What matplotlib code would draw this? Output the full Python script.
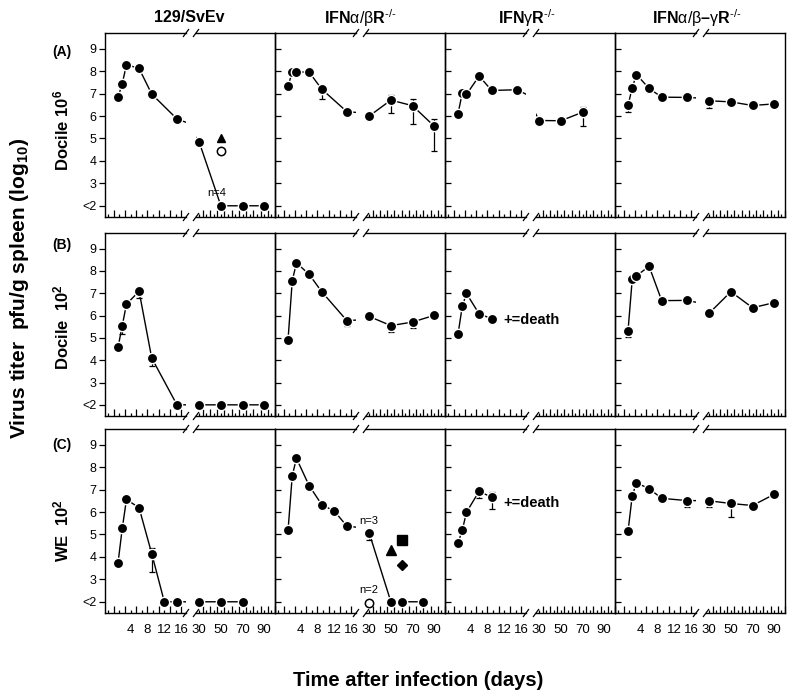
import numpy as np
import matplotlib.pyplot as plt
from matplotlib.ticker import MultipleLocator

plt.rcParams['font.family'] = ['Liberation Sans', 'DejaVu Sans']
plt.rcParams['mathtext.fontset'] = 'custom'
plt.rcParams['mathtext.rm'] = 'Liberation Sans'
plt.rcParams['mathtext.it'] = 'Liberation Sans:italic'
plt.rcParams['mathtext.bf'] = 'Liberation Sans:bold'

# sampling days
days_full = [1, 2, 3, 6, 9, 15, 30, 50, 70, 90]
days_a3 = [1, 2, 3, 6, 9, 15, 30, 50, 70]
days_short = [1, 2, 3, 6, 9]
days_c1 = [1, 2, 3, 6, 9, 12, 15, 30, 50, 70]
days_c2 = [1, 2, 3, 6, 9, 12, 15, 30, 50, 60, 80]

# log10 virus titers, 2 = below detection (<2)
a_129 = [6.84, 7.44, 8.29, 8.12, 6.98, 5.87, 4.83, 2, 2, 2]
a_ab = [7.33, 7.96, 7.96, 7.96, 7.2, 6.19, 6.0, 6.71, 6.46, 5.55]
a_g = [6.11, 7.02, 6.96, 7.78, 7.14, 7.17, 5.8, 5.79, 6.17]
a_abg = [6.47, 7.27, 7.85, 7.23, 6.84, 6.83, 6.68, 6.63, 6.47, 6.54]

b_129 = [4.58, 5.55, 6.51, 7.09, 4.1, 2, 2, 2, 2, 2]
b_ab = [4.92, 7.56, 8.36, 7.85, 7.07, 5.77, 5.96, 5.55, 5.71, 6.01]
b_g = [5.17, 6.41, 6.99, 6.08, 5.86]
b_abg = [5.33, 7.63, 7.78, 8.21, 6.67, 6.68, 6.11, 7.07, 6.35, 6.58]

c_129 = [3.74, 5.27, 6.56, 6.19, 4.15, 2, 2, 2, 2, 2]
c_ab = [5.18, 7.62, 8.39, 7.18, 6.33, 6.04, 5.37, 5.06, 2, 2, 2]
c_g = [4.63, 5.18, 5.99, 6.92, 6.66]
c_abg = [5.15, 6.73, 7.3, 7.04, 6.61, 6.51, 6.5, 6.38, 6.29, 6.79]

# error bars: (day, low, high)
err_a_129 = [(1, 6.70, 6.84)]
err_a_ab = [(9, 6.77, 7.2), (50, 6.13, 6.95), (70, 5.64, 6.75), (90, 4.42, 5.86)]
err_a_g = [(70, 5.56, 6.42)]
err_a_abg = [(1, 6.17, 6.47), (30, 6.35, 6.68)]
err_b_129 = [(2, 5.19, 5.55), (6, 6.8, 7.09), (9, 3.75, 4.1)]
err_b_ab = [(15, 5.52, 5.77), (50, 5.25, 5.55), (70, 5.44, 5.71)]
err_b_g = []
err_b_abg = [(1, 5.04, 5.33)]
err_c_129 = [(9, 3.32, 4.41)]
err_c_ab = [(30, 4.76, 5.06)]
err_c_g = [(6, 6.63, 6.92), (9, 6.14, 6.91)]
err_c_abg = [(15, 6.23, 6.51), (30, 6.24, 6.5), (50, 5.8, 6.6)]

# single animals shown with other symbols
a_extra_days = [50, 50]
a_extra_vals = [5.0, 4.42]
c_extra_days = [30, 50, 60, 60]
c_extra_vals = [1.95, 4.29, 4.76, 3.65]

sup = r'$^{\mathrm{‐/‐}}$'
col_titles = ['129/SvEv', r'IFN$\mathrm{\alpha/\beta}$R' + sup,
              r'IFN$\mathrm{\gamma}$R' + sup,
              r'IFN$\mathrm{\alpha/\beta}$–$\mathrm{\gamma}$R' + sup]
row_tags = ['(A)', '(B)', '(C)']
row_labels = [r'Docile 10$^{\mathbf{6}}$', r'Docile  10$^{\mathbf{2}}$', r'WE  10$^{\mathbf{2}}$']
ytick_labels = ['<2', '3', '4', '5', '6', '7', '8', '9']

panels = [
    [(days_full, a_129, err_a_129), (days_full, a_ab, err_a_ab),
     (days_a3, a_g, err_a_g), (days_full, a_abg, err_a_abg)],
    [(days_full, b_129, err_b_129), (days_full, b_ab, err_b_ab),
     (days_short, b_g, err_b_g), (days_full, b_abg, err_b_abg)],
    [(days_c1, c_129, err_c_129), (days_c2, c_ab, err_c_ab),
     (days_short, c_g, err_c_g), (days_full, c_abg, err_c_abg)],
]

W, H = 800, 697
fig = plt.figure(figsize=(W / 100, H / 100), dpi=100)


def box(x0, y0, x1, y1):
    return [x0 / W, 1 - y1 / H, (x1 - x0) / W, (y1 - y0) / H]


def slashes(ax, xa):
    bb = ax.get_position()
    dx = 2.6 / (bb.width * W)
    dy = 3.5 / (bb.height * H)
    for ya in (0, 1):
        ax.plot([xa - dx, xa + dx], [ya - dy, ya + dy], color='k', lw=0.9,
                transform=ax.transAxes, clip_on=False)


def draw(ax, days, vals, errs, lo, hi):
    for d, elo, ehi in errs:
        if lo <= d <= hi:
            v = vals[days.index(d)]
            ax.errorbar([d], [v], yerr=[[v - elo], [ehi - v]], fmt='none', ecolor='k',
                        elinewidth=0.9, capsize=2.5, capthick=0.9, zorder=2)
    ax.plot(days, vals, '-', color='k', lw=1.0, zorder=3)
    dd = [d for d in days if lo <= d <= hi]
    vv = [v for d, v in zip(days, vals) if lo <= d <= hi]
    ax.plot(dd, vv, 'o', ms=7.4, mfc='k', mec='white', mew=1.0, zorder=4, clip_on=False)


def ftext(x, y, s, ha='center', **kw):
    fig.text(x / W, 1 - y / H, s, ha=ha, va='center', fontweight='bold', **kw)


row_y = [(33, 217), (233, 416), (429, 613)]

for r in range(3):
    y0, y1 = row_y[r]
    for c in range(4):
        off = 170 * c
        ax1 = fig.add_axes(box(105 + off, y0, 186 + off, y1))
        ax2 = fig.add_axes(box(196 + off, y0, 275 + off, y1))
        ax1.set_xlim(-2.1, 17.15)
        ax2.set_xlim(27, 100)
        for ax in (ax1, ax2):
            ax.set_ylim(1.5, 9.7)
            ax.patch.set_visible(False)
            for s in ax.spines.values():
                s.set_linewidth(1.0)
        ax1.spines['right'].set_visible(False)
        ax2.spines['left'].set_visible(False)

        ax1.set_yticks(range(2, 10))
        if c == 0:
            ax1.set_yticklabels(ytick_labels)
            ax1.tick_params(axis='y', direction='out', length=4, width=0.9,
                            labelsize=9, pad=2)
        else:
            ax1.tick_params(axis='y', direction='in', length=4, width=0.9,
                            labelleft=False)
        ax2.set_yticks([])

        ax1.xaxis.set_major_locator(MultipleLocator(8 / 3))
        ax1.xaxis.set_minor_locator(MultipleLocator(4 / 3))
        ax2.xaxis.set_major_locator(MultipleLocator(20 / 3))
        ax2.xaxis.set_minor_locator(MultipleLocator(10 / 3))
        for ax in (ax1, ax2):
            ax.tick_params(axis='x', which='major', direction='in', length=5,
                           width=0.9, labelbottom=False)
            ax.tick_params(axis='x', which='minor', direction='in', length=2.5,
                           width=0.9)

        if r == 2:
            for ax, ticks in ((ax1, [4, 8, 12, 16]), (ax2, [30, 50, 70, 90])):
                sec = ax.secondary_xaxis('bottom')
                sec.set_xticks(ticks)
                sec.set_xticklabels([str(t) for t in ticks])
                sec.tick_params(length=0, labelsize=9.5, pad=8)
                sec.spines['bottom'].set_visible(False)

        slashes(ax1, 1.0)
        slashes(ax2, 0.0)

        days, vals, errs = panels[r][c]
        draw(ax1, days, vals, errs, -5, 20)
        draw(ax2, days, vals, errs, 20, 120)

        if r == 0 and c == 0:
            ax2.plot(a_extra_days[0], a_extra_vals[0], '^', ms=6, color='k', clip_on=False)
            ax2.plot(a_extra_days[1], a_extra_vals[1], 'o', ms=6, mfc='white',
                     mec='k', mew=1.1, clip_on=False)
            ax2.text(46.5, 2.57, 'n=4', fontsize=8, ha='center', va='center')
        if r == 2 and c == 1:
            ax2.plot(c_extra_days[0], c_extra_vals[0], 'o', ms=6, mfc='white',
                     mec='k', mew=1.1, clip_on=False, zorder=5)
            ax2.plot(c_extra_days[1], c_extra_vals[1], '^', ms=6.5, color='k')
            ax2.plot(c_extra_days[2], c_extra_vals[2], 's', ms=6.5, color='k')
            ax2.plot(c_extra_days[3], c_extra_vals[3], 'D', ms=5.5, color='k')
            ax2.text(30, 5.6, 'n=3', fontsize=8, ha='center', va='center')
            ax2.text(30, 2.51, 'n=2', fontsize=8, ha='center', va='center')

ftext(503, 320, '+=death', ha='left', fontsize=10.5)
ftext(503, 503, '+=death', ha='left', fontsize=10.5)

for x, t in zip([189, 360, 527, 697], col_titles):
    ftext(x, 18, t, fontsize=11.5)
for y, t in zip([52, 245, 445], row_tags):
    ftext(62, y, t, fontsize=10)
for y, t in zip([130, 327, 531], row_labels):
    ftext(61, y, t, fontsize=12, rotation=90)

ftext(20, 288, r'Virus titer  pfu/g spleen (log$_{\mathbf{10}}$)', fontsize=15, rotation=90)
ftext(418, 680, 'Time after infection (days)', fontsize=14.5)

fig.savefig('out.png', dpi=100)
